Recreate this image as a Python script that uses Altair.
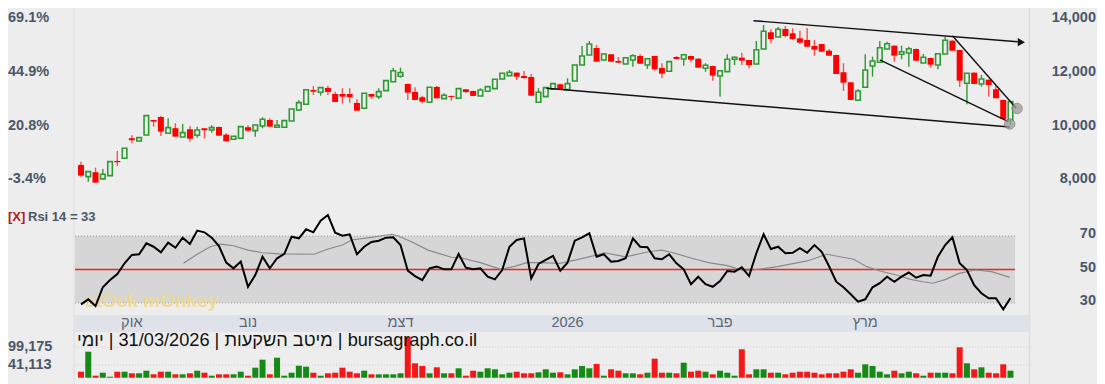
import altair as alt
import pandas as pd

# ---------------- data ----------------
opens = [8535, 8100, 8263, 8014, 8137, 8684, 8785, 9530, 9429, 9653,
         10212, 10323, 9716, 9902, 9578, 9865, 9642, 9902, 9839, 9951,
         9664, 9493, 9530, 9940, 9813, 9988, 10212, 9940, 9940, 10174,
         10584, 10796, 11328, 11243, 11404, 11180, 11180, 11180, 10845, 10648,
         11180, 11080, 11303, 11638, 11841, 11553, 11255, 11057, 10871, 11441,
         11006, 11106, 11020, 11355, 11292, 11107, 11281, 11378, 11739, 11862,
         11974, 11850, 11813, 10871, 11080, 11355, 11541, 11341, 11664, 12260,
         12633, 12894, 12447, 12659, 12409, 12298, 12447, 12596, 12260, 12596,
         12149, 12026, 12558, 12484, 12596, 12495, 12139, 12223, 11850, 12011,
         12473, 12532, 12447, 12298, 12856, 13479, 13303, 13602, 13441, 13255,
         13192, 12968, 13043, 12793, 12633, 11990, 11616, 10946, 11430, 12223,
         12361, 12856, 12979, 12659, 12707, 12856, 12335, 12521, 12260, 12670,
         13165, 12819, 11579, 11974, 11553, 11713, 11355, 10957, 10212]
highs = [8658, 8300, 8435, 8386, 8670, 9057, 9160, 9642, 9560, 10380,
         10212, 10361, 10275, 10089, 10063, 9977, 9962, 9902, 10014, 9960,
         9716, 9620, 9975, 10014, 10040, 10312, 10275, 10212, 10200, 10630,
         10946, 11350, 11478, 11420, 11478, 11266, 11393, 11393, 10983, 11215,
         11180, 11393, 11680, 12160, 12160, 11560, 11430, 11105, 11440, 11478,
         11206, 11120, 11390, 11360, 11300, 11393, 11460, 11740, 11960, 12074,
         11990, 12037, 11925, 11393, 11420, 11570, 11560, 11765, 12270, 12968,
         13154, 13005, 12680, 12670, 12558, 12540, 12659, 12659, 12500, 12600,
         12324, 12390, 12590, 12650, 12600, 12500, 12324, 12230, 12060, 12659,
         12570, 12719, 12450, 13154, 13750, 13590, 13676, 13713, 13627, 13540,
         13627, 13192, 13050, 12856, 12640, 12324, 11620, 11366, 12659, 12570,
         13154, 13128, 12990, 12979, 12942, 12870, 12670, 12530, 12707, 13315,
         13180, 12830, 11960, 11980, 11888, 11720, 11478, 10960, 10900]
lows = [8088, 7913, 7876, 8014, 8137, 8498, 8785, 9344, 9420, 9650,
        9962, 9616, 9700, 9590, 9578, 9403, 9552, 9515, 9739, 9620,
        9418, 9480, 9530, 9776, 9590, 9902, 9962, 9940, 9940, 10170,
        10547, 10790, 11143, 11117, 11143, 10882, 10819, 10856, 10558, 10640,
        10994, 10994, 11300, 11630, 11787, 10957, 10957, 10834, 10870, 11020,
        11000, 10930, 11020, 11206, 11100, 11100, 11280, 11370, 11730, 11850,
        11702, 11750, 11117, 10860, 11080, 11350, 11360, 11340, 11660, 12250,
        12630, 12383, 12440, 12380, 12340, 12290, 12197, 12300, 12111, 12048,
        11776, 12020, 12480, 12234, 12360, 12160, 12011, 11676, 11074, 12000,
        12260, 12260, 12139, 12290, 12850, 13069, 13300, 13290, 13192, 13043,
        12940, 12607, 12750, 12600, 11925, 11292, 10957, 10940, 11430, 11825,
        12360, 12850, 12383, 12473, 12197, 12420, 12330, 12175, 12100, 12660,
        12790, 11441, 10796, 11550, 11452, 11074, 11020, 10249, 10025]
closes = [8137, 8286, 7876, 8189, 8658, 8636, 9158, 9456, 9552, 10372,
          10148, 9776, 9925, 9590, 9739, 9515, 9839, 9828, 9925, 9627,
          9418, 9605, 9962, 9813, 10025, 10238, 9962, 10014, 10186, 10621,
          10856, 11340, 11266, 11415, 11255, 10882, 11080, 11057, 10558, 11206,
          11080, 11266, 11676, 12048, 11974, 11229, 10957, 10893, 11430, 11020,
          11132, 11069, 11378, 11255, 11107, 11328, 11452, 11728, 11951, 11990,
          11825, 11776, 11117, 11243, 11415, 11564, 11366, 11564, 12260, 12596,
          13043, 12383, 12670, 12383, 12346, 12532, 12607, 12309, 12495, 12100,
          11936, 12384, 12484, 12644, 12458, 12160, 12249, 11862, 12048, 12473,
          12547, 12421, 12260, 12830, 13516, 13229, 13590, 13341, 13229, 13091,
          12942, 12830, 12756, 12607, 11925, 11601, 10957, 11292, 12074, 12409,
          12905, 13054, 12607, 12756, 12868, 12421, 12547, 12272, 12681, 13180,
          12793, 11676, 11951, 11553, 11739, 11516, 11020, 10249, 10893]
volumes = [19501, 84015, 6598, 16275, 3372, 19501, 19501, 14340, 14340, 22727,
           11114, 19501, 19501, 11114, 11114, 14340, 22727, 16275, 6598, 11114,
           11114, 11114, 19501, 6598, 32404, 58209, 11114, 64661, 6598, 16275,
           38855, 35629, 16275, 6598, 14340, 16275, 32404, 19501, 14340, 22727,
           11114, 11114, 11114, 11114, 14340, 132400, 46597, 37887, 14340, 33694,
           14340, 14340, 30468, 6598, 22727, 19501, 30468, 27242, 11114, 16275,
           19501, 14340, 14340, 17565, 27242, 16275, 17565, 11114, 27242, 37887,
           30468, 44339, 6598, 27242, 22727, 14340, 14340, 11114, 16275, 61435,
           16275, 16275, 14340, 48532, 19501, 22727, 19501, 11114, 22727, 16275,
           6598, 91756, 11114, 27242, 27242, 16275, 16275, 11114, 16275, 19501,
           19501, 16275, 11114, 14340, 14340, 19501, 27242, 16275, 43371, 37887,
           19501, 11114, 22727, 14340, 19501, 14340, 6598, 16275, 16275, 16275,
           14340, 98208, 46597, 27242, 33694, 16275, 14340, 43371, 22727]
rsi14 = [29.2, 32.2, 28.2, 39.4, 43.7, 47.3, 53.7, 58.7, 59.1, 65.6,
         63.6, 60.3, 66.0, 63.0, 69.0, 65.2, 73.2, 72.2, 69.0, 64.0,
         54.1, 50.7, 54.7, 39.7, 46.7, 57.6, 50.7, 56.7, 59.3, 69.6,
         68.6, 74.0, 72.2, 79.1, 82.5, 72.0, 70.2, 71.0, 59.1, 63.6,
         66.4, 67.2, 69.0, 69.2, 64.6, 49.3, 46.1, 43.7, 50.7, 51.7,
         50.1, 50.1, 59.3, 51.1, 50.1, 50.7, 45.7, 44.1, 49.7, 63.6,
         67.6, 68.6, 44.7, 53.3, 55.7, 58.1, 49.3, 54.1, 67.2, 69.2,
         71.6, 57.6, 59.1, 54.7, 55.1, 56.7, 68.6, 63.6, 63.3, 56.7,
         56.1, 59.1, 53.7, 50.1, 41.2, 45.7, 41.2, 39.7, 43.1, 49.1,
         48.7, 51.3, 46.1, 59.7, 71.0, 62.2, 63.6, 59.7, 60.0, 62.7,
         60.0, 64.6, 60.6, 52.1, 42.7, 39.4, 35.2, 30.8, 32.2, 39.4,
         41.8, 45.7, 42.7, 45.7, 48.3, 45.1, 46.7, 46.3, 57.6, 64.6,
         69.2, 53.7, 49.7, 40.7, 35.8, 32.8, 32.8, 26.2, 33]
sig_idx = [15.1, 17, 18.8, 20.2, 22, 24, 26, 28.3, 33.1, 34.9, 37, 38.3, 41,
           43.1, 43.8, 44.7, 46.5, 48.8, 52, 53.3, 56, 58.8, 60.6, 62.4, 64.2,
           66.9, 69.2, 71.5, 73.1, 76, 79.2, 81, 82.8, 85.1, 87.4, 90, 92.4,
           94.6, 96.9, 99.2, 101, 103.7, 105.5, 107.4, 109.2, 111, 113.3, 115.1,
           116.9, 118.3, 120.1, 121.9, 124.2, 126.4, 128.9]
sig_val = [53.7, 59.1, 63.6, 65.2, 64.2, 61.6, 60.0, 59.3, 59.1, 62.1, 64.6, 67.6, 69.2,
           70.6, 71.0, 70.0, 66.6, 61.6, 57.3, 57.0, 54.1, 50.1, 51.7, 54.1, 54.1,
           53.7, 55.7, 58.1, 60.0, 57.6, 60.6, 61.6, 59.7, 56.7, 54.1, 52.3, 49.1,
           50.3, 51.7, 53.7, 55.1, 59.1, 57.6, 56.1, 51.7, 49.1, 46.7, 44.3,
           42.7, 41.8, 44.1, 47.7, 49.7, 48.7, 45.3]

price_ticks = [14000, 12000, 10000, 8000]
pct_labels = ["69.1%", "44.9%", "20.8%", "-3.4%"]
rsi_ticks = [70, 50, 30]
vol_ticks = [99175, 41113]
month_labels = ["אוק", "נוב", "דצמ", "2026", "פבר", "מרץ"]
month_idx = [8, 24, 45, 68, 89, 109]

trend_id = ["A", "A", "B", "B", "C", "C", "D", "D"]
trend_idx = [65.1, 128.9, 93.6, 130.0, 111.0, 128.7, 121.0, 129.8]
trend_price = [11393, 9949, 13911, 13128, 12447, 10148, 13352, 10647]
arrow_idx = [130.5]
arrow_price = [13110]
marker_idx = [129.9, 128.9]
marker_price = [10640, 10063]

title_text = "יומי\u200e | 31/03/2026 | מיטב השקעות\u200e | bursagraph.co.il"
rsi_title = "Rsi 14 = " + str(rsi14[-1])
watermark = "stOck mOnkey"

# ---------------- styling ----------------
BG = "#ededed"
GREEN = "#2f9a33"
RED = "#ff0000"
VGREEN = "#168a16"
VRED = "#f51818"
SLATE = "#4b5668"
FONT = "Liberation Sans, DejaVu Sans, Arial"

X = alt.Scale(domain=[1, 129], range=[76, 1015.5], nice=False, zero=False)
P = alt.Scale(domain=[8000, 14000], range=[179.3, 18.3], nice=False, zero=False)
R = alt.Scale(domain=[30, 70], range=[303, 236], nice=False, zero=False)
V = alt.Scale(domain=[41113, 99175], range=[365, 347], nice=False, zero=False)

n = len(closes)
df = pd.DataFrame({"i": list(range(1, n + 1)), "open": opens, "high": highs,
                   "low": lows, "close": closes, "vol": volumes, "rsi": rsi14})
df["top"] = df[["open", "close"]].max(axis=1)
df["bot"] = df[["open", "close"]].min(axis=1)
up = df[df["close"] >= df["open"]]
dn = df[df["close"] < df["open"]]


def xq():
    return alt.X("i:Q", scale=X, axis=None)


def yp(f):
    return alt.Y(f + ":Q", scale=P, axis=None)


base = alt.Chart(pd.DataFrame({"k": [0]}))
layers = []

# frame / panels
layers.append(base.mark_rule(color="#dcdcdc", strokeWidth=1).encode(
    x=alt.value(74), y=alt.value(0), y2=alt.value(384)))
layers.append(base.mark_rule(color="#dcdcdc", strokeWidth=1.5).encode(
    x=alt.value(1029.5), y=alt.value(0), y2=alt.value(384)))
layers.append(base.mark_rect(color="#dfe3e9").encode(
    x=alt.value(75), x2=alt.value(1029), y=alt.value(315), y2=alt.value(332)))

band = pd.DataFrame({"hi": [rsi_ticks[0]], "lo": [rsi_ticks[-1]]})
layers.append(alt.Chart(band).mark_rect(color="#d6d6d6").encode(
    x=alt.value(75), x2=alt.value(1015),
    y=alt.Y("hi:Q", scale=R, axis=None), y2="lo:Q"))
layers.append(alt.Chart(pd.DataFrame({"lvl": [rsi_ticks[0], rsi_ticks[-1]]})).mark_rule(
    color="#9f9f9f", strokeDash=[1, 2], strokeWidth=1).encode(
    x=alt.value(75), x2=alt.value(1015), y=alt.Y("lvl:Q", scale=R, axis=None)))
layers.append(alt.Chart(pd.DataFrame({"lvl": [rsi_ticks[1]]})).mark_rule(
    color=RED, strokeWidth=1.5, opacity=0.85).encode(
    x=alt.value(75), x2=alt.value(1015), y=alt.Y("lvl:Q", scale=R, axis=None)))

# watermark
layers.append(base.mark_text(align="left", baseline="middle", font=FONT, fontSize=19,
                             fontWeight="bold", color="#f0d98a", opacity=0.85).encode(
    x=alt.value(85), y=alt.value(301), text=alt.value(watermark)))

# volume
layers.append(alt.Chart(pd.DataFrame({"v": vol_ticks})).mark_rule(
    color="#cfcfcf", strokeDash=[1, 2]).encode(
    x=alt.value(75), x2=alt.value(1029), y=alt.Y("v:Q", scale=V, axis=None)))
layers.append(alt.Chart(up).mark_bar(size=6, color=VGREEN).encode(
    x=xq(), y=alt.Y("vol:Q", scale=V, axis=None), y2=alt.value(384)))
layers.append(alt.Chart(dn).mark_bar(size=6, color=VRED).encode(
    x=xq(), y=alt.Y("vol:Q", scale=V, axis=None), y2=alt.value(384)))

# RSI
sig = pd.DataFrame({"i": sig_idx, "v": sig_val})
layers.append(alt.Chart(sig).mark_line(color="#8a8a8a", strokeWidth=1.2).encode(
    x=xq(), y=alt.Y("v:Q", scale=R, axis=None)))
layers.append(alt.Chart(df).mark_line(color="#000000", strokeWidth=2).encode(
    x=xq(), y=alt.Y("rsi:Q", scale=R, axis=None)))

# candles
layers.append(alt.Chart(dn).mark_rule(color="#ff4d4d", strokeWidth=1.4).encode(
    x=xq(), y=yp("low"), y2="high:Q"))
layers.append(alt.Chart(up).mark_rule(color=GREEN, strokeWidth=1.4).encode(
    x=xq(), y=yp("low"), y2="high:Q"))
layers.append(alt.Chart(dn).mark_bar(size=6, color=RED).encode(
    x=xq(), y=yp("top"), y2="bot:Q"))
layers.append(alt.Chart(up).mark_bar(size=4.6, fill=BG, stroke=GREEN, strokeWidth=1.6).encode(
    x=xq(), y=yp("top"), y2="bot:Q"))

# trend lines, arrow, markers
tl = pd.DataFrame({"id": trend_id, "i": trend_idx, "price": trend_price})
layers.append(alt.Chart(tl).mark_line(color="#111111", strokeWidth=1.4).encode(
    x=xq(), y=yp("price"), detail="id:N"))
layers.append(alt.Chart(pd.DataFrame({"i": arrow_idx, "price": arrow_price})).mark_point(
    shape="triangle-right", filled=True, color="#111111", size=70, opacity=1).encode(
    x=xq(), y=yp("price")))
layers.append(alt.Chart(pd.DataFrame({"i": marker_idx, "price": marker_price})).mark_circle(
    size=110, color="#9b9b9b", opacity=0.75, stroke="#7d7d7d", strokeWidth=1).encode(
    x=xq(), y=yp("price")))

# texts
lab = pd.DataFrame({"p": price_ticks, "pct": pct_labels})
layers.append(alt.Chart(lab).mark_text(align="right", baseline="middle", font=FONT,
                                       fontSize=14.5, fontWeight="bold", color=SLATE).encode(
    x=alt.value(1096), y=alt.Y("p:Q", scale=P, axis=None), text=alt.Text("p:Q", format=",")))
layers.append(alt.Chart(lab).mark_text(align="left", baseline="middle", font=FONT,
                                       fontSize=14.5, fontWeight="bold", color=SLATE).encode(
    x=alt.value(8), y=alt.Y("p:Q", scale=P, axis=None), text="pct:N"))
layers.append(alt.Chart(pd.DataFrame({"r": rsi_ticks})).mark_text(
    align="right", baseline="middle", dy=-2, font=FONT, fontSize=14.5, fontWeight="bold",
    color=SLATE).encode(
    x=alt.value(1096), y=alt.Y("r:Q", scale=R, axis=None), text="r:Q"))
layers.append(alt.Chart(pd.DataFrame({"v": vol_ticks})).mark_text(
    align="left", baseline="middle", font=FONT, fontSize=14.5, fontWeight="bold",
    color=SLATE).encode(
    x=alt.value(8), y=alt.Y("v:Q", scale=V, axis=None), text=alt.Text("v:Q", format=",")))
layers.append(alt.Chart(pd.DataFrame({"i": month_idx, "m": month_labels})).mark_text(
    align="center", baseline="middle", font=FONT, fontSize=14.5, color="#5b6577").encode(
    x=xq(), y=alt.value(323), text="m:N"))
layers.append(base.mark_text(align="left", baseline="middle", font=FONT, fontSize=13,
                             fontWeight="bold", color="#b01c1c").encode(
    x=alt.value(8), y=alt.value(216.5), text=alt.value("[X]")))
layers.append(base.mark_text(align="left", baseline="middle", font=FONT, fontSize=13,
                             fontWeight="bold", color=SLATE).encode(
    x=alt.value(28), y=alt.value(216.5), text=alt.value(rsi_title)))
layers.append(base.mark_text(align="left", baseline="middle", font=FONT, fontSize=18.2,
                             color="#111111").encode(
    x=alt.value(77), y=alt.value(341), text=alt.value(title_text)))

chart = alt.layer(*layers).resolve_scale(y="independent").properties(
    width=1105, height=384,
    padding={"left": -8, "top": -8, "right": -8, "bottom": 0},
    autosize=alt.AutoSizeParams(type="none"),
    background=BG,
).configure_view(stroke=None)

chart.save("out.html", embed_options={"renderer": "svg", "actions": False})
